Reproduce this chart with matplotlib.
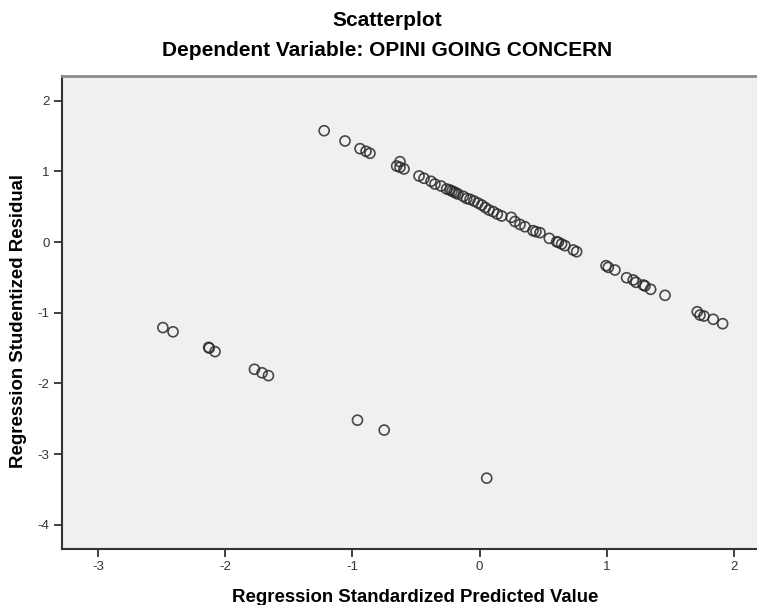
import numpy as np
import matplotlib.pyplot as plt

plt.rcParams['font.family'] = ['Liberation Sans', 'DejaVu Sans']
plt.rcParams['axes.unicode_minus'] = False

# predicted value (standardized) and studentized residual
pred_upper = [-1.222, -1.058, -0.940, -0.893, -0.862, -0.626, -0.652, -0.626, -0.594,
              -0.476, -0.437, -0.382, -0.351, -0.303, -0.259, -0.233, -0.217, -0.201,
              -0.186, -0.170, -0.128, -0.101, -0.075, -0.044, -0.013, 0.017, 0.045,
              0.074, 0.108, 0.139, 0.174, 0.249, 0.278, 0.318, 0.357, 0.420, 0.443,
              0.475, 0.548, 0.606, 0.619, 0.645, 0.671, 0.737, 0.763, 0.994, 1.012,
              1.064, 1.156, 1.208, 1.230, 1.287, 1.300, 1.345, 1.458, 1.711, 1.733,
              1.764, 1.837, 1.911]
resid_upper = [1.574, 1.429, 1.320, 1.283, 1.255, 1.136, 1.075, 1.057, 1.033,
               0.934, 0.901, 0.859, 0.820, 0.792, 0.750, 0.735, 0.721, 0.707,
               0.693, 0.679, 0.646, 0.615, 0.604, 0.580, 0.552, 0.523, 0.488,
               0.453, 0.429, 0.396, 0.368, 0.349, 0.290, 0.248, 0.216, 0.160, 0.146,
               0.132, 0.052, 0.004, -0.004, -0.028, -0.052, -0.113, -0.137, -0.335, -0.358,
               -0.396, -0.505, -0.537, -0.570, -0.608, -0.622, -0.669, -0.754, -0.986, -1.033,
               -1.047, -1.093, -1.155]

pred_lower = [-2.49, -2.41, -2.13, -2.125, -2.08, -1.77, -1.71, -1.66, -0.96, -0.75, 0.056]
resid_lower = [-1.21, -1.27, -1.49, -1.50, -1.55, -1.80, -1.85, -1.89, -2.52, -2.66, -3.34]

x = np.array(pred_upper + pred_lower)
y = np.array(resid_upper + resid_lower)

fig = plt.figure(figsize=(7.57, 6.05), dpi=100)
ax = fig.add_axes([62/757, 1 - 549/605, 1 - 62/757, (549 - 76)/605])
ax.set_facecolor('#f0f0f0')

ax.scatter(x, y, s=52, facecolors='none', edgecolors='#2a2a2a', linewidths=1.2, alpha=0.85)

ax.set_xlim(-3.283, 2.181)
ax.set_ylim(-4.342, 2.348)
ax.set_xticks([-3, -2, -1, 0, 1, 2])
ax.set_yticks([-4, -3, -2, -1, 0, 1, 2])
ax.tick_params(direction='out', length=6, width=1.3, color='#333333',
               labelsize=9.5, labelcolor='#333333', pad=3)

for side in ['left', 'bottom']:
    ax.spines[side].set_color('#333333')
    ax.spines[side].set_linewidth(1.5)
ax.spines['top'].set_color('#8a8a8a')
ax.spines['top'].set_linewidth(2)
ax.spines['right'].set_visible(False)

fig.text(0.511, 0.966, 'Scatterplot', ha='center', va='center', fontsize=15, fontweight='bold')
fig.text(0.511, 0.917, 'Dependent Variable: OPINI GOING CONCERN', ha='center', va='center',
         fontsize=15, fontweight='bold')
fig.text(0.549, 0.013, 'Regression Standardized Predicted Value', ha='center', va='center',
         fontsize=13.4, fontweight='bold')
fig.text(0.024, 0.47, 'Regression Studentized Residual', ha='center', va='center',
         rotation=90, fontsize=13.4, fontweight='bold')

fig.savefig('out.png', dpi=100, facecolor='white')
